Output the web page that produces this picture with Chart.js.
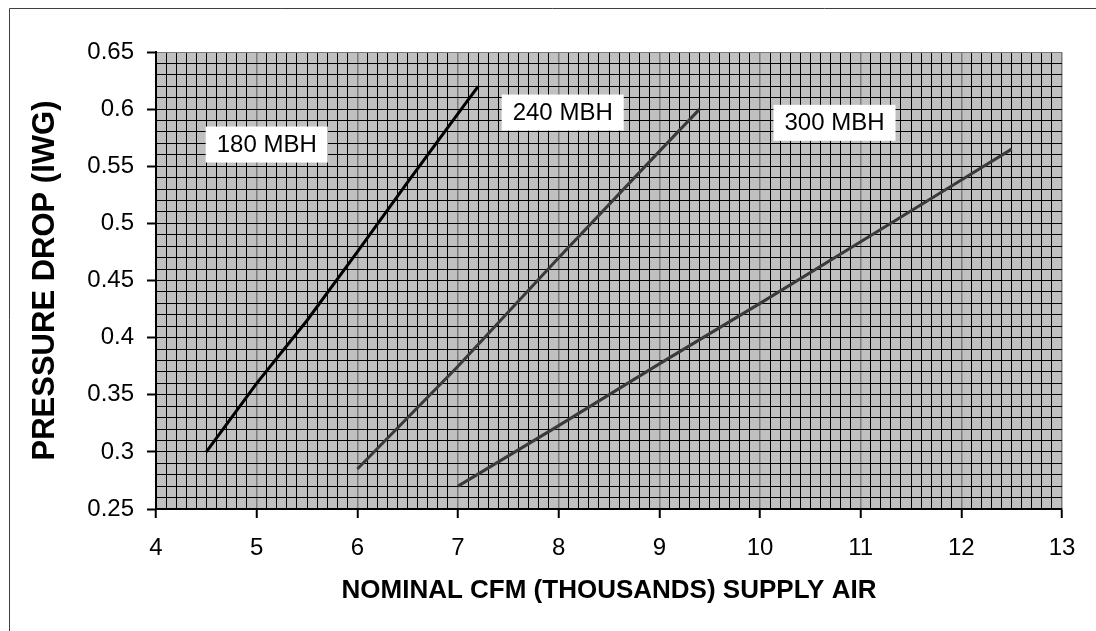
<!DOCTYPE html>
<html>
<head>
<meta charset="utf-8">
<script src="https://cdn.jsdelivr.net/npm/chart.js@4/dist/chart.umd.min.js"></script>
<style>
  html, body { margin: 0; padding: 0; background: #fff; }
</style>
</head>
<body>
<canvas id="dropChart" width="1096" height="631"></canvas>
<script>
// values
const cfm180 = [4.5, 5, 5.5, 6, 6.5, 7, 7.2];
const drop180 = [0.30, 0.36, 0.415, 0.475, 0.536, 0.596, 0.62];
const cfm240 = [6, 7, 8, 9, 9.4];
const drop240 = [0.285, 0.375, 0.47, 0.563, 0.60];
const cfm300 = [7, 8, 9, 10, 11, 12, 12.5];
const drop300 = [0.27, 0.323, 0.377, 0.43, 0.484, 0.538, 0.565];

const seriesNames = ['180 MBH', '240 MBH', '300 MBH'];
const nameX = [5.1, 8.04, 10.74];
const nameY = [0.569, 0.597, 0.588];

const xTitle = 'NOMINAL CFM (THOUSANDS) SUPPLY AIR';
const yTitle = 'PRESSURE DROP (IWG)';

const toPoints = (xs, ys) => xs.map((x, i) => ({ x: x, y: ys[i] }));

const isWhole = (v, step) => Math.abs(v / step - Math.round(v / step)) < 1e-6;

const FONT = "'Liberation Sans', Arial, sans-serif";

// outer frame + the white series labels
const decorations = {
  id: 'decorations',
  beforeDraw(chart) {
    const c = chart.ctx;
    c.save();
    c.fillStyle = '#fff';
    c.fillRect(0, 0, chart.width, chart.height);
    c.strokeStyle = '#404040';
    c.lineWidth = 1;
    c.beginPath();
    c.moveTo(9.5, chart.height);
    c.lineTo(9.5, 8.5);
    c.lineTo(chart.width, 8.5);
    c.stroke();
    c.restore();
  },
  afterDatasetsDraw(chart) {
    const c = chart.ctx;
    const xs = chart.scales.x, ys = chart.scales.y;
    c.save();
    c.font = '24px ' + FONT;
    c.textAlign = 'center';
    c.textBaseline = 'middle';
    seriesNames.forEach((name, i) => {
      const px = xs.getPixelForValue(nameX[i]);
      const py = ys.getPixelForValue(nameY[i]);
      const w = c.measureText(name).width + 22;
      const h = 36;
      c.fillStyle = '#fff';
      c.fillRect(px - w / 2, py - h / 2, w, h);
      c.fillStyle = '#000';
      c.fillText(name, px, py + 1);
    });
    c.restore();
  }
};

new Chart(document.getElementById('dropChart'), {
  type: 'scatter',
  data: {
    datasets: [
      { label: seriesNames[0], data: toPoints(cfm180, drop180), borderColor: '#000', borderWidth: 3 },
      { label: seriesNames[1], data: toPoints(cfm240, drop240), borderColor: '#3a3a3a', borderWidth: 3 },
      { label: seriesNames[2], data: toPoints(cfm300, drop300), borderColor: '#3a3a3a', borderWidth: 3 }
    ].map(d => Object.assign(d, { showLine: true, tension: 0, pointRadius: 0, fill: false }))
  },
  options: {
    responsive: false,
    animation: false,
    devicePixelRatio: 1,
    layout: { padding: { left: 0, top: 52, right: 34, bottom: 0 } },
    plugins: {
      legend: { display: false },
      tooltip: { enabled: false }
    },
    scales: {
      x: {
        type: 'linear',
        min: 4,
        max: 13,
        afterFit(scale) { scale.height = 122; },
        border: { color: '#000', width: 2 },
        grid: {
          color: ctx => isWhole(ctx.tick.value, 1) ? '#7a7a7a' : '#000',
          lineWidth: ctx => isWhole(ctx.tick.value, 1) ? 1.5 : 1,
          tickColor: ctx => isWhole(ctx.tick.value, 1) ? '#000' : 'rgba(0,0,0,0)',
          tickLength: 9,
          tickWidth: 2
        },
        ticks: {
          stepSize: 0.1,
          autoSkip: false,
          maxRotation: 0,
          padding: 16,
          color: '#000',
          font: { family: FONT, size: 24 },
          callback: v => isWhole(v, 1) ? String(Math.round(v)) : ''
        },
        title: {
          display: true,
          text: xTitle,
          color: '#000',
          font: { family: FONT, size: 26, weight: 'bold' },
          padding: { top: 0, bottom: 25 }
        }
      },
      y: {
        type: 'linear',
        min: 0.25,
        max: 0.65,
        afterFit(scale) { scale.width = 156; },
        border: { color: '#000', width: 2 },
        grid: {
          color: ctx => ctx.tick.value > 0.649 ? '#7a7a7a' : '#000',
          lineWidth: 1,
          tickColor: ctx => isWhole(ctx.tick.value, 0.05) ? '#000' : 'rgba(0,0,0,0)',
          tickLength: 9,
          tickWidth: 2
        },
        ticks: {
          stepSize: 0.01,
          autoSkip: false,
          padding: 13,
          color: '#000',
          font: { family: FONT, size: 24 },
          callback: v => isWhole(v, 0.05) ? String(parseFloat(v.toFixed(2))) : ''
        },
        title: {
          display: true,
          text: yTitle,
          color: '#000',
          font: { family: FONT, size: 31, weight: 'bold' },
          padding: { top: 27, bottom: 0 }
        }
      }
    }
  },
  plugins: [decorations, {
    id: 'plotBg',
    beforeDraw(chart) {
      const a = chart.chartArea;
      chart.ctx.save();
      chart.ctx.fillStyle = '#c0c0c0';
      chart.ctx.fillRect(a.left, a.top, a.right - a.left, a.bottom - a.top);
      chart.ctx.restore();
    }
  }]
});
</script>
</body>
</html>
